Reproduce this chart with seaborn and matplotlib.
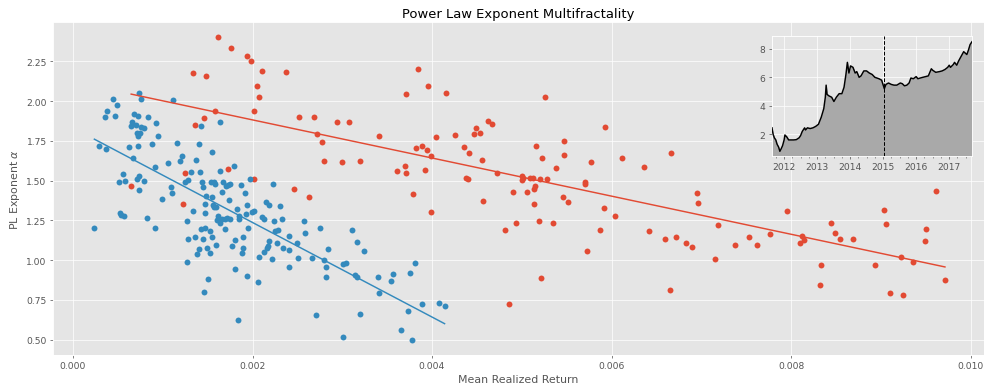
import numpy as np
import pandas as pd
import matplotlib
matplotlib.use("Agg")
import matplotlib.pyplot as plt
import matplotlib.dates as mdates
import seaborn as sns

# ---------------- data ----------------
# Mean realized return (in units of 1e-3) and PL exponent, group after split (blue)
blue_ret = [0.238, 0.291, 0.369, 0.361, 0.376, 0.443, 0.466, 0.492, 0.507, 0.520, 0.530, 0.566,
            0.562, 0.577, 0.629, 0.648, 0.659, 0.667, 0.685, 0.704, 0.711, 0.723, 0.726, 0.726,
            0.734, 0.741, 0.756, 0.763, 0.786, 0.711, 0.734, 0.734, 0.793, 0.823, 0.838, 0.879,
            0.912, 0.924, 0.916, 0.942, 0.991, 1.061, 1.088, 1.106, 1.114, 1.162, 1.188, 1.218,
            1.251, 1.270, 1.270, 1.281, 1.285, 1.315, 1.337, 1.367, 1.363, 1.385, 1.404, 1.404,
            1.411, 1.423, 1.430, 1.434, 1.445, 1.449, 1.460, 1.471, 1.475, 1.475, 1.486, 1.493,
            1.501, 1.523, 1.531, 1.538, 1.549, 1.549, 1.561, 1.572, 1.575, 1.583, 1.594, 1.598,
            1.605, 1.616, 1.635, 1.635, 1.635, 1.657, 1.672, 1.691, 1.709, 1.717, 1.728, 1.739,
            1.747, 1.754, 1.769, 1.799, 1.806, 1.806, 1.832, 1.840, 1.844, 1.844, 1.873, 1.881,
            1.896, 1.899, 1.918, 1.926, 1.937, 1.944, 1.948, 1.970, 1.996, 2.015, 2.060, 2.074,
            2.104, 2.123, 2.130, 2.145, 2.156, 2.175, 2.186, 2.186, 2.216, 2.231, 2.242, 2.253,
            2.276, 2.287, 2.305, 2.332, 2.343, 2.402, 2.402, 2.409, 2.492, 2.510, 2.570, 2.581,
            2.667, 2.704, 2.752, 2.797, 2.819, 2.816, 2.846, 1.546, 1.665, 1.690,
            3.110, 3.166, 3.237, 3.010, 3.040, 3.140, 3.160, 3.200, 3.007, 3.397, 3.408, 3.545,
            3.564, 3.760, 3.810, 3.883, 3.727, 3.649, 3.779, 4.080, 4.140]
blue_alpha = [1.200, 1.720, 1.700, 1.900, 1.940, 2.013, 1.904, 1.975, 1.489, 1.295, 1.285, 1.280,
              1.544, 1.495, 1.709, 1.843, 1.866, 1.640, 1.921, 1.850, 1.800, 1.782, 1.908, 1.720,
              2.051, 1.800, 2.013, 1.840, 1.830, 1.510, 1.530, 1.440, 1.500, 1.265, 1.902, 1.730,
              1.200, 1.864, 1.587, 1.780, 1.386, 1.613, 1.457, 1.424, 2.009, 1.734, 1.623, 1.652,
              1.489, 0.990, 1.244, 1.502, 1.135, 1.552, 1.311, 1.627, 1.143, 1.042, 1.070, 1.732,
              1.556, 1.841, 1.193, 1.493, 1.133, 1.458, 0.803, 1.354, 1.294, 1.202, 1.405, 1.078,
              0.880, 1.185, 1.045, 1.489, 1.678, 1.400, 1.350, 1.332, 1.493, 1.479, 1.097, 1.336,
              1.250, 1.275, 1.866, 1.562, 1.231, 1.431, 1.489, 1.196, 1.468, 1.263, 1.472, 1.378,
              1.260, 1.479, 1.089, 1.593, 0.946, 1.130, 1.320, 0.623, 1.258, 1.279, 1.474, 1.048,
              1.145, 1.075, 1.420, 1.290, 1.350, 0.900, 1.202, 1.511, 1.305, 1.309, 0.864, 1.019,
              1.273, 1.053, 1.258, 1.367, 1.075, 1.091, 1.350, 1.120, 1.005, 1.481, 1.244, 1.181,
              1.110, 1.192, 1.342, 1.258, 1.078, 0.956, 1.149, 1.061, 1.110, 1.014, 1.246, 1.170,
              1.016, 0.655, 1.200, 1.001, 0.959, 0.896, 1.070, 1.144, 1.258, 1.260,
              1.190, 1.114, 1.056, 0.976, 0.980, 0.910, 0.896, 0.660, 0.520, 0.892, 0.792, 0.867,
              0.913, 0.917, 0.984, 0.725, 0.682, 0.561, 0.498, 0.729, 0.712]

# group before split (red)
red_ret = [0.648, 1.222, 1.248, 1.341, 1.359, 1.460, 1.479, 1.587, 1.620, 1.724, 1.765, 1.933,
           1.985, 2.019, 2.022, 2.048, 2.074, 2.104, 2.369, 2.462, 2.518, 2.629, 2.689, 2.719,
           2.771, 2.801, 2.946, 2.994, 3.073, 3.192, 3.408, 3.609, 3.706, 3.695, 3.713, 3.788,
           3.817, 3.844, 3.892, 3.918, 3.948, 3.955, 3.989, 3.989, 4.045, 4.156, 4.261, 4.358,
           4.384, 4.402, 4.413, 4.473, 4.495, 4.540, 4.562, 4.566, 4.629, 4.663, 4.719, 4.812,
           4.860, 4.905, 4.935, 4.998, 5.002, 5.009, 5.058, 5.091, 5.125, 5.132, 5.136, 5.147,
           5.158, 5.196, 5.207, 5.214, 5.225, 5.255, 5.285, 5.352, 5.382, 5.464, 5.471, 5.471,
           5.512, 5.706, 5.706, 5.724, 5.773, 5.877, 5.914, 5.929, 6.041, 6.112, 6.359, 6.659,
           6.652, 6.422, 6.593, 6.719, 6.830, 6.893, 6.948, 6.963, 7.156, 7.185, 7.381, 7.530,
           7.626, 7.763, 7.952, 8.100, 8.122, 8.144, 8.322, 8.337, 8.448, 8.489, 8.544, 8.689,
           8.930, 9.033, 9.063, 9.100, 9.226, 9.248, 9.359, 9.493, 9.507, 9.619, 9.715]
red_alpha = [1.464, 1.351, 1.550, 2.179, 1.847, 1.894, 2.160, 1.940, 2.405, 1.573, 2.336, 2.281,
             2.252, 1.938, 1.512, 2.097, 2.026, 2.187, 2.181, 1.449, 1.900, 1.395, 1.900, 1.795,
             1.743, 1.623, 1.866, 1.619, 1.871, 1.625, 1.783, 1.558, 2.042, 1.594, 1.546, 1.414,
             1.707, 2.202, 1.720, 1.569, 1.694, 2.093, 1.657, 1.305, 1.774, 2.051, 1.787, 1.711,
             1.518, 1.510, 1.676, 1.791, 1.831, 1.797, 1.632, 1.372, 1.873, 1.858, 1.548, 1.191,
             0.724, 1.430, 1.233, 1.529, 1.502, 1.516, 1.430, 1.518, 1.516, 1.445, 1.355, 1.464,
             1.715, 1.246, 1.508, 0.891, 1.640, 2.026, 1.510, 1.235, 1.577, 1.399, 1.749, 1.659,
             1.365, 1.491, 1.478, 1.055, 1.619, 1.189, 1.328, 1.837, 1.277, 1.642, 1.588, 1.671,
             0.812, 1.185, 1.135, 1.147, 1.109, 1.086, 1.424, 1.357, 1.009, 1.223, 1.093, 1.143,
             1.093, 1.164, 1.311, 1.107, 1.151, 1.126, 0.845, 0.967, 1.231, 1.172, 1.135, 1.135,
             0.967, 1.315, 1.227, 0.795, 1.020, 0.783, 0.986, 1.118, 1.193, 1.437, 0.875]

# inset: log price series
price_dates = ["2011-08-20", "2011-09-01", "2011-09-15", "2011-10-01", "2011-10-15", "2011-11-01",
               "2011-11-15", "2011-12-01", "2011-12-15", "2012-01-01", "2012-01-10", "2012-02-01",
               "2012-02-20", "2012-03-15", "2012-04-15", "2012-05-15", "2012-06-15", "2012-07-01",
               "2012-07-20", "2012-08-15", "2012-08-25", "2012-09-15", "2012-10-15", "2012-11-15",
               "2012-12-15", "2013-01-15", "2013-02-15", "2013-03-15", "2013-04-01", "2013-04-10",
               "2013-04-20", "2013-05-10", "2013-06-10", "2013-07-05", "2013-08-01", "2013-09-01",
               "2013-10-01", "2013-10-25", "2013-11-15", "2013-12-01", "2013-12-18", "2014-01-05",
               "2014-02-01", "2014-02-25", "2014-03-15", "2014-04-10", "2014-05-01", "2014-06-01",
               "2014-07-01", "2014-08-01", "2014-09-01", "2014-10-01", "2014-11-15", "2014-12-15",
               "2015-01-14", "2015-02-01", "2015-03-01", "2015-04-01", "2015-05-01", "2015-06-01",
               "2015-07-10", "2015-08-01", "2015-08-25", "2015-09-20", "2015-10-15", "2015-11-04",
               "2015-12-01", "2016-01-01", "2016-01-20", "2016-02-15", "2016-03-15", "2016-04-15",
               "2016-05-15", "2016-06-17", "2016-07-01", "2016-08-05", "2016-09-15", "2016-10-15",
               "2016-11-15", "2016-12-15", "2017-01-01", "2017-01-15", "2017-02-15", "2017-03-01",
               "2017-03-25", "2017-04-15", "2017-05-15", "2017-06-10", "2017-07-15", "2017-08-01",
               "2017-08-20", "2017-09-10"]
price_log = [2.45, 2.0, 1.75, 1.6, 1.3, 1.1,
             0.8, 1.0, 1.2, 1.6, 1.95, 1.8,
             1.6, 1.6, 1.6, 1.62, 1.75, 1.9,
             2.2, 2.45, 2.3, 2.45, 2.4, 2.45,
             2.55, 2.7, 3.2, 3.8, 4.6, 5.45,
             4.8, 4.7, 4.6, 4.3, 4.6, 4.85,
             4.85, 5.3, 6.2, 7.05, 6.3, 6.8,
             6.7, 6.3, 6.4, 6.0, 6.1, 6.45,
             6.45, 6.3, 6.2, 6.0, 5.9, 5.8,
             5.2, 5.5, 5.6, 5.5, 5.45, 5.45,
             5.6, 5.55, 5.4, 5.45, 5.6, 5.95,
             5.9, 6.05, 5.9, 5.95, 6.0, 6.05,
             6.1, 6.6, 6.5, 6.35, 6.4, 6.45,
             6.55, 6.7, 6.85, 6.7, 6.9, 7.05,
             6.85, 7.15, 7.5, 7.8, 7.6, 7.9,
             8.3, 8.5]
split_date = "2015-01-14"

# ---------------- plot ----------------
plt.style.use("ggplot")
red_c = "#E24A33"
blue_c = "#348ABD"

fig = plt.figure(figsize=(15, 5.893), dpi=985 / 15)
ax = fig.add_axes([53 / 985, 31 / 387, 931 / 985, 333 / 387])

df_red = pd.DataFrame({"ret": np.array(red_ret) * 1e-3, "alpha": red_alpha})
df_blue = pd.DataFrame({"ret": np.array(blue_ret) * 1e-3, "alpha": blue_alpha})

sns.regplot(data=df_red, x="ret", y="alpha", ax=ax, ci=None, color=red_c,
            scatter_kws={"s": 42, "alpha": 1, "linewidths": 0}, line_kws={"lw": 1.6})
sns.regplot(data=df_blue, x="ret", y="alpha", ax=ax, ci=None, color=blue_c,
            scatter_kws={"s": 42, "alpha": 1, "linewidths": 0}, line_kws={"lw": 1.6})

ax.set_xlim(-0.000223, 0.01015)
ax.set_ylim(0.404, 2.497)
ax.set_xticks([0.0, 0.002, 0.004, 0.006, 0.008, 0.010])
ax.set_xticklabels(["0.000", "0.002", "0.004", "0.006", "0.008", "0.010"])
ax.set_yticks([0.5, 0.75, 1.0, 1.25, 1.5, 1.75, 2.0, 2.25])
ax.set_yticklabels(["0.50", "0.75", "1.00", "1.25", "1.50", "1.75", "2.00", "2.25"])
ax.set_xlabel("Mean Realized Return")
ax.set_ylabel(r"PL Exponent $\alpha$")
ax.set_title("Power Law Exponent Multifractality")

# inset
ins = fig.add_axes([772 / 985, (387 - 157) / 387, 200 / 985, 120 / 387])
dates = pd.to_datetime(price_dates)
df_p = pd.DataFrame({"date": dates, "logp": price_log})
ins.fill_between(df_p["date"], df_p["logp"], 0, color="#a9a9a9", zorder=2)
sns.lineplot(data=df_p, x="date", y="logp", ax=ins, color="black", lw=1.6, zorder=3)
ins.axvline(pd.Timestamp(split_date), color="black", ls="--", lw=1.1, zorder=4)
ins.set_xlim(dates[0], dates[-1])
ins.set_ylim(0.47, 8.9)
ins.set_yticks([2, 4, 6, 8])
ins.xaxis.set_major_locator(mdates.YearLocator())
ins.xaxis.set_major_formatter(mdates.DateFormatter("%Y"))
ins.xaxis.set_minor_locator(mdates.MonthLocator(bymonth=[4, 7, 10]))
ins.set_xlabel("")
ins.set_ylabel("")

fig.savefig("out.png", dpi=985 / 15)
